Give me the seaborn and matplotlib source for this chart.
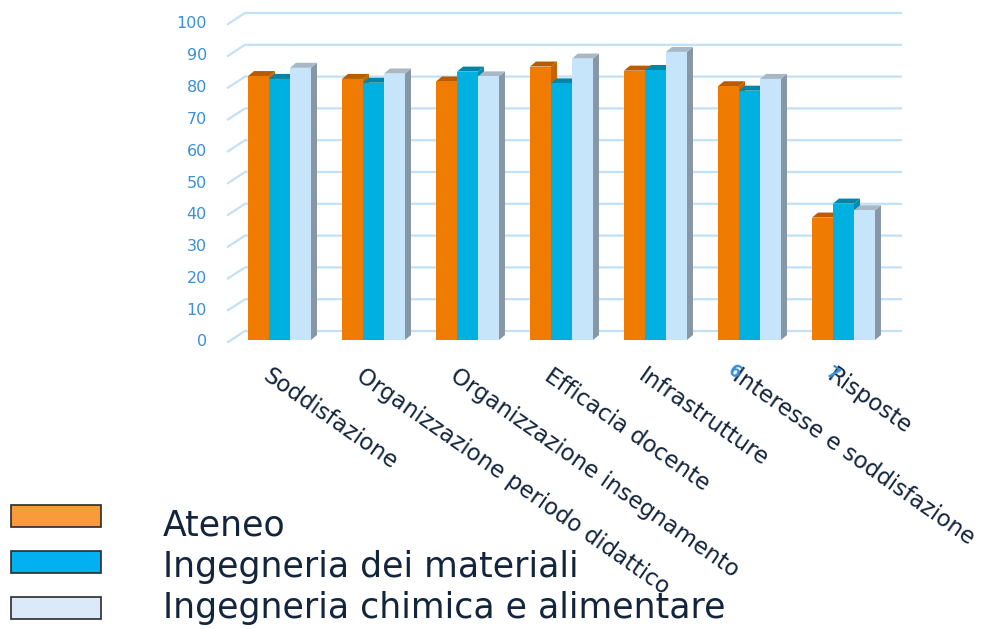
import numpy as np
import pandas as pd
import matplotlib
matplotlib.use("Agg")
import matplotlib.pyplot as plt
from matplotlib.patches import Polygon, Rectangle
from matplotlib.transforms import offset_copy
import seaborn as sns

# ---- data -------------------------------------------------------------
categories = [
    "Soddisfazione",
    "Organizzazione periodo didattico",
    "Organizzazione insegnamento",
    "Efficacia docente",
    "Infrastrutture",
    "Interesse e soddisfazione",
    "Risposte",
]
series_names = [
    "Ateneo",
    "Ingegneria dei materiali",
    "Ingegneria chimica e alimentare",
]
ateneo = [83.0, 82.1, 81.3, 86.0, 84.7, 79.8, 38.5]
materiali = [82.1, 80.9, 84.4, 80.7, 84.9, 78.4, 42.9]
chimica = [85.6, 83.8, 82.9, 88.5, 90.6, 82.1, 40.8]
y_ticks = list(range(0, 101, 10))

df = pd.DataFrame({
    "categoria": categories * 3,
    "serie": [series_names[0]] * 7 + [series_names[1]] * 7 + [series_names[2]] * 7,
    "valore": ateneo + materiali + chimica,
})

# ---- styling ----------------------------------------------------------
sns.set_theme(style="white")
plt.rcParams["font.family"] = ["DejaVu Sans"]

front_colors = ["#ef7c00", "#00b0e0", "#c6e5fa"]
top_colors = ["#b95b00", "#0084a8", "#a7b8c6"]
side_colors = ["#c46300", "#008bb0", "#8797a6"]
legend_colors = ["#f99b39", "#00b0f0", "#daeaf8"]
grid_color = "#c2e1f7"
tick_color = "#3a8fda"
text_color = "#13253d"

W, H = 987, 629
fig = plt.figure(figsize=(W / 100, H / 100), dpi=100)

# axes box in pixels (from top-left); category i sits at x = 279.5 + 94*i,
# value 0 at y = 340 and 3.18 px per unit
ax_l, ax_r, ax_t, ax_b = 200, 930, 0, 360
ax = fig.add_axes([ax_l / W, 1 - ax_b / H, (ax_r - ax_l) / W, (ax_b - ax_t) / H])
px_x, px_y = 94.0, 3.18

sns.barplot(
    data=df, x="categoria", y="valore", hue="serie",
    order=categories, hue_order=series_names,
    palette=front_colors, saturation=1, width=0.67,
    linewidth=0, edgecolor="none", legend=False, ax=ax, zorder=3,
)
ax.set_xlim((ax_l - 279.5) / px_x, (ax_r - 279.5) / px_x)
ax.set_ylim((340 - ax_b) / px_y, (340 - ax_t) / px_y)
ax.axis("off")

ux, uy = 1 / px_x, 1 / px_y  # data units per pixel

# back wall gridlines with the slanted side-wall segment
for v in y_ticks:
    y_back = v + 9 * uy
    y_front = v - 2.7 * uy
    xs = [(227 - 279.5) * ux, (245 - 279.5) * ux, (902 - 279.5) * ux]
    ys = [y_front, y_back, y_back]
    ax.plot(xs, ys, color=grid_color, lw=1.6, zorder=1, clip_on=False,
            solid_capstyle="butt")
    ax.text((207 - 279.5) * ux, v - 2 * uy, str(v), ha="right", va="center",
            fontsize=11.5, color=tick_color)

# depth faces of each bar (top and right side)
dx, dy = 6 * ux, 5 * uy
bars = list(ax.patches)
n = len(categories)
for k, bar in enumerate(bars):
    s = k // n
    x0 = bar.get_x()
    x1 = x0 + bar.get_width()
    h = bar.get_height()
    side = Polygon([(x1, 0), (x1, h), (x1 + dx, h + dy), (x1 + dx, dy)],
                   closed=True, facecolor=side_colors[s], edgecolor="none",
                   zorder=2)
    top = Polygon([(x0, h), (x1, h), (x1 + dx, h + dy), (x0 + dx, h + dy)],
                  closed=True, facecolor=top_colors[s], edgecolor="none",
                  zorder=2)
    ax.add_patch(side)
    ax.add_patch(top)

# rotated category labels
label_tr = offset_copy(ax.transData, fig=fig, x=-8, y=0, units="dots")
for i, name in enumerate(categories):
    ax.text(i, (340 - 364) * uy, name, rotation=-35, rotation_mode="anchor",
            ha="left", va="top", fontsize=16.5, color=text_color,
            transform=label_tr, clip_on=False)

# small stray index marks beside two labels
ax.text((735 - 279.5) * ux, (340 - 362) * uy, "6", rotation=-35,
        rotation_mode="anchor", ha="left", va="top", fontsize=12,
        fontweight="bold", color=tick_color, clip_on=False)
ax.text((833 - 279.5) * ux, (340 - 364) * uy, "7", rotation=-35,
        rotation_mode="anchor", ha="left", va="top", fontsize=12,
        fontweight="bold", color=tick_color, clip_on=False)

# legend drawn as swatches and labels in figure pixels
for j, name in enumerate(series_names):
    top_px = 505 + 46 * j
    fig.patches.append(Rectangle((11 / W, 1 - (top_px + 22) / H), 90 / W, 22 / H,
                                 transform=fig.transFigure,
                                 facecolor=legend_colors[j],
                                 edgecolor="#2b2b2b", linewidth=1.2))
    fig.text(163 / W, 1 - (536 + 41 * j) / H, name, ha="left",
             va="baseline", fontsize=25, color=text_color)

fig.savefig("out.png", dpi=100)
